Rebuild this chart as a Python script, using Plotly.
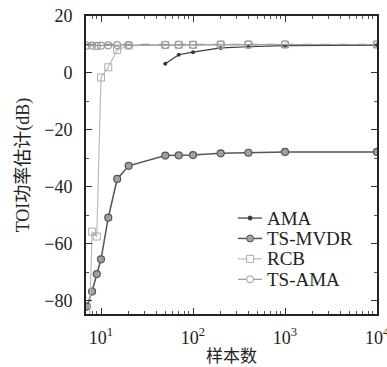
import plotly.graph_objects as go

# Data
x_main = [7, 8, 9, 10, 12, 15, 20, 50, 70, 100, 200, 400, 1000, 10000]
ts_mvdr = [-82.0, -76.7, -70.6, -65.4, -50.8, -37.2, -32.6, -29.0, -28.9, -28.8, -28.2, -28.0, -27.7, -27.7]
ts_ama = [9.6, 9.6, 9.5, 9.6, 9.7, 9.8, 9.8, 9.9, 9.9, 9.9, 9.9, 10.0, 10.0, 10.0]
rcb = [-120.0, -55.7, -57.4, -1.6, 2.0, 8.1, 9.6, 9.8, 9.9, 9.9, 10.0, 10.0, 10.0, 10.0]
x_ama = [50, 70, 100, 200, 400, 1000, 10000]
ama = [3.2, 6.4, 7.3, 8.8, 9.2, 9.6, 9.8]
true_x = [7, 10000]
true_power = [10, 10]

series_names = ["AMA", "TS-MVDR", "RCB", "TS-AMA"]
xtick_vals = [10, 100, 1000, 10000]
xtick_text = ["10<sup>1</sup>", "10<sup>2</sup>", "10<sup>3</sup>", "10<sup>4</sup>"]
ytick_vals = [-80, -60, -40, -20, 0, 20]
ytick_text = ["−80", "−60", "−40", "−20", "0", "20"]

FONT = "Liberation Serif, Times New Roman, serif"

styles = {
    "AMA": dict(line=dict(color="#3a3a3a", width=1.2),
                marker=dict(symbol="circle", size=4, color="#3a3a3a")),
    "TS-MVDR": dict(line=dict(color="#555555", width=1.5),
                    marker=dict(symbol="circle", size=7, color="#a0a0a0",
                                line=dict(color="#555555", width=1.2))),
    "RCB": dict(line=dict(color="#bbbbbb", width=1.2),
                marker=dict(symbol="square-open", size=7, color="#aaaaaa", line=dict(width=1))),
    "TS-AMA": dict(line=dict(color="#999999", width=1.2),
                   marker=dict(symbol="circle-open", size=7, color="#999999", line=dict(width=1.2))),
}
series_x = {"AMA": x_ama, "TS-MVDR": x_main, "RCB": x_main, "TS-AMA": x_main}
series_y = {"AMA": ama, "TS-MVDR": ts_mvdr, "RCB": rcb, "TS-AMA": ts_ama}

fig = go.Figure()
fig.add_trace(go.Scatter(x=true_x, y=true_power, mode="lines", showlegend=False,
                         line=dict(color="#8a8a8a", width=1.6, dash="dash")))
for name in series_names:
    fig.add_trace(go.Scatter(x=series_x[name], y=series_y[name], mode="lines+markers",
                             name=name, showlegend=False, **styles[name]))

# Manual legend (paper coordinates)
leg_x0, leg_x1, leg_xm, leg_xt = 0.522, 0.605, 0.564, 0.615
leg_y_top, leg_dy = 0.322, 0.0685
for i, name in enumerate(series_names):
    yy = leg_y_top - i * leg_dy
    st = styles[name]
    fig.add_shape(type="line", xref="paper", yref="paper", x0=leg_x0, x1=leg_x1, y0=yy, y1=yy,
                  line=dict(color=st["line"]["color"], width=st["line"]["width"]))
    sz = st["marker"]["size"] / 2
    sym = st["marker"]["symbol"]
    mcol = st["marker"]["color"]
    edge = st["marker"].get("line", {}).get("color", mcol)
    fill = mcol if sym in ("circle",) else "white"
    fig.add_shape(type="rect" if sym.startswith("square") else "circle",
                  xref="paper", yref="paper", xsizemode="pixel", ysizemode="pixel",
                  xanchor=leg_xm, yanchor=yy, x0=-sz, x1=sz, y0=-sz, y1=sz,
                  fillcolor=fill, line=dict(color=edge, width=1))
    fig.add_annotation(text=name, xref="paper", yref="paper", x=leg_xt, y=yy,
                       xanchor="left", yanchor="middle", showarrow=False,
                       font=dict(family=FONT, size=19, color="#222"))

# last x tick label (partly outside the figure, as in the reference)
fig.add_annotation(text=xtick_text[-1], xref="x", yref="paper", x=4, y=0,
                   xanchor="center", yanchor="top", yshift=-9, showarrow=False,
                   font=dict(family=FONT, size=18, color="#222"))

minor_x = [m * 10 ** d for d in range(0, 4) for m in range(2, 10) if 7 <= m * 10 ** d <= 10000]

fig.update_layout(
    width=387, height=367,
    margin=dict(l=86, r=10, t=16, b=53),
    paper_bgcolor="white", plot_bgcolor="white",
    font=dict(family=FONT, size=18, color="#222222"),
    showlegend=False,
    xaxis=dict(type="log", range=[0.837, 4.0], automargin=False,
               tickvals=xtick_vals, ticktext=xtick_text,
               tickfont=dict(size=18), ticklabelstandoff=6,
               ticks="inside", ticklen=6, tickwidth=1, tickcolor="#333",
               minor=dict(tickvals=minor_x, ticks="inside", ticklen=3, tickcolor="#555"),
               showline=True, linecolor="#222", linewidth=2, mirror="ticks",
               showgrid=False, zeroline=False,
               title=dict(text="样本数", font=dict(family="Noto Sans CJK SC", size=17), standoff=15)),
    yaxis=dict(range=[-84.6, 20], automargin=False,
               tickvals=ytick_vals, ticktext=ytick_text,
               tickfont=dict(size=18), ticklabelstandoff=8,
               ticks="inside", ticklen=6, tickwidth=1, tickcolor="#333",
               minor=dict(dtick=10, ticks="inside", ticklen=3, tickcolor="#555"),
               showline=True, linecolor="#222", linewidth=2, mirror="ticks",
               showgrid=False, zeroline=False,
               title=dict(text="TOI功率估计(dB)", font=dict(family=FONT + ", Noto Sans CJK SC", size=18), standoff=10)),
)

fig.write_html("out.html")
